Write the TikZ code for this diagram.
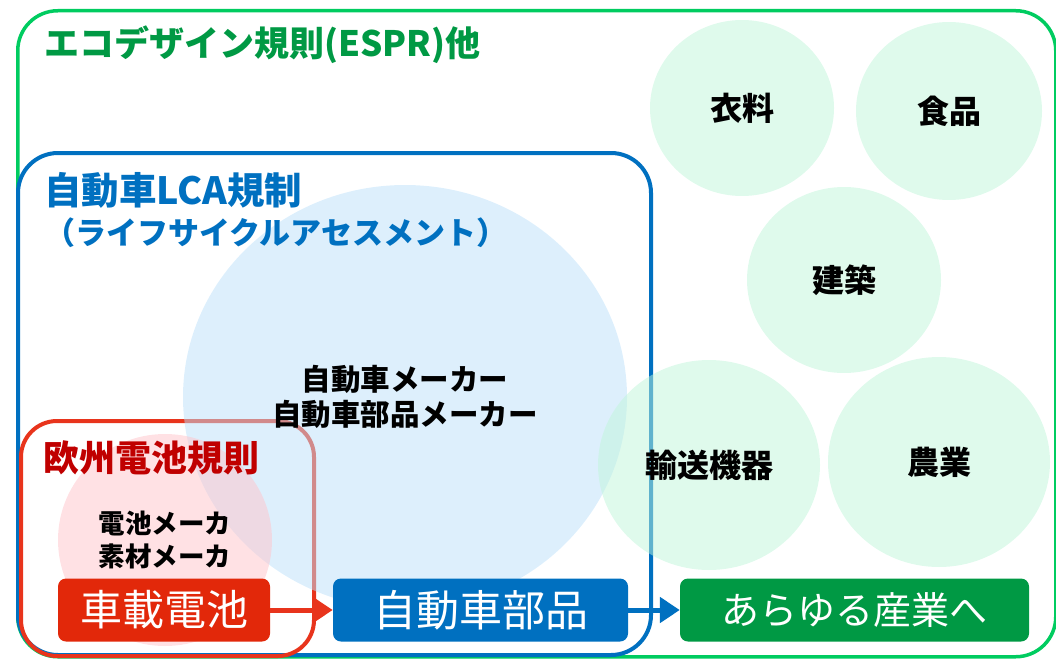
\documentclass[tikz,border=0pt]{standalone}
\usepackage{fontspec}
\newfontfamily\jp{Noto Sans CJK JP}
\usetikzlibrary{arrows.meta,shapes.geometric}
\definecolor{egreen}{RGB}{0,204,96}
\definecolor{dgreen}{RGB}{0,153,68}
\definecolor{eblue}{RGB}{0,112,192}
\definecolor{ered}{RGB}{232,52,28}
\definecolor{bred}{RGB}{226,40,10}
\definecolor{tred}{RGB}{192,0,0}
\definecolor{lblue}{RGB}{187,224,250}
\definecolor{lpink}{RGB}{255,196,202}
\definecolor{lgreen}{RGB}{192,245,218}
\tikzset{
  frame/.style={draw, rounded corners=40pt, anchor=north west, inner sep=0pt, minimum width=#1},
  blob/.style={ellipse, fill=#1, fill opacity=0.5, text opacity=1, inner sep=0pt, align=center,
    font=\jp\bfseries\fontsize{32}{38}\selectfont},
  title/.style={anchor=west, inner sep=0pt},
  flowbox/.style={fill=#1, rounded corners=8pt, text=white, minimum height=63pt, inner sep=0pt},
  flowarrow/.style={draw=#1, line width=5pt, -{Triangle[length=20pt,width=25pt]}}
}
\begin{document}
\begin{tikzpicture}[x=1pt,y=-1pt]
\useasboundingbox (0,0) rectangle (1056,658);
% frames
\node[frame=1038pt, draw=egreen, line width=3.5pt, minimum height=646pt] (espr) at (16,9) {};
\node[frame=633pt, draw=eblue, line width=4pt, minimum height=502pt] (lca) at (16,151) {};
\node[frame=293pt, draw=ered, line width=4pt, minimum height=235pt, rounded corners=36pt] (eubat) at (19,419) {};
% circles
\node[blob=lblue, minimum width=444pt, minimum height=424pt, font=\jp\bfseries\fontsize{29.5}{35}\selectfont] (makers) at (405,397) {自動車メーカー\\自動車部品メーカー};
\node[blob=lpink, minimum width=214pt, minimum height=212pt, font=\jp\bfseries\fontsize{26.5}{33}\selectfont] (batm) at (165,540) {電池メーカ\\素材メーカ};
\node[blob=lgreen, minimum width=184pt, minimum height=176pt] (c1) at (742,108) {衣料};
\node[blob=lgreen, minimum width=186pt, minimum height=178pt] (c2) at (949,111) {食品};
\node[blob=lgreen, minimum width=194pt, minimum height=186pt] (c3) at (844,280) {建築};
\node[blob=lgreen, minimum width=222pt, minimum height=210pt] (c4) at (709,465) {輸送機器};
\node[blob=lgreen, minimum width=222pt, minimum height=210pt] (c5) at (939,462) {農業};
% titles
\node[title, text=dgreen, font=\jp\bfseries\fontsize{35}{40}\selectfont] (t1) at (44,45) {エコデザイン規則(ESPR)他};
\node[title, text=eblue, font=\jp\bfseries\fontsize{37.5}{40}\selectfont] (t2) at (44,190) {自動車LCA規制};
\node[title, text=eblue, font=\jp\bfseries\fontsize{31}{36}\selectfont] (t3) at (44,233) {（ライフサイクルアセスメント）};
\node[title, text=tred, font=\jp\bfseries\fontsize{36}{40}\selectfont] (t4) at (43,458) {欧州電池規則};
% flow
\node[flowbox=bred, minimum width=212pt, font=\jp\fontsize{42}{46}\selectfont] (bat) at (164,610) {車載電池};
\node[flowbox=eblue, minimum width=295pt, font=\jp\fontsize{43}{46}\selectfont] (parts) at (480.5,610) {自動車部品};
\node[flowbox=dgreen, minimum width=349pt, font=\jp\fontsize{38}{44}\selectfont] (all) at (854.5,610) {あらゆる産業へ};
\draw[flowarrow=ered] (bat) -- (parts);
\draw[flowarrow=eblue] (parts) -- (all);
\end{tikzpicture}
\end{document}
